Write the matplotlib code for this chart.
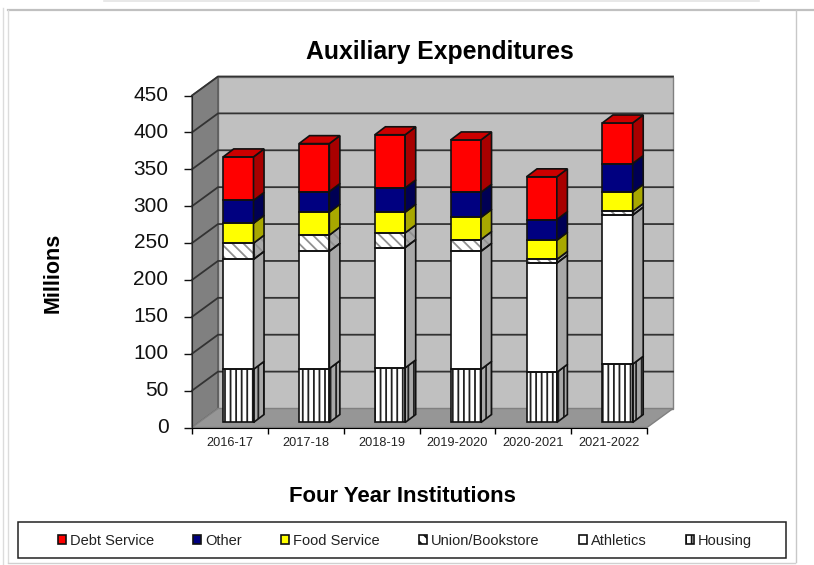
"""
Gastos auxiliares por año, barras apiladas con aspecto 3D.
"""
import matplotlib
matplotlib.use("Agg")
import matplotlib.pyplot as plt
from matplotlib.colors import to_rgb
from matplotlib.lines import Line2D
from matplotlib.patches import Patch, Polygon, Rectangle
from matplotlib.transforms import ScaledTranslation

plt.rcParams["font.family"] = ["Liberation Sans", "DejaVu Sans"]
plt.rcParams["hatch.linewidth"] = 1.3

ANCHO, ALTO = 814, 565

anios = ["2016-17", "2017-18", "2018-19", "2019-2020", "2020-2021", "2021-2022"]
housing = [72, 73, 74, 72, 68, 79]
athletics = [149, 159, 163, 160, 148, 202]
union = [22, 22, 20, 16, 5, 5]
food = [27, 31, 28, 30, 26, 26]
other = [31, 28, 33, 34, 28, 39]
debt = [59, 65, 72, 71, 58, 55]
ticks_y = [0, 50, 100, 150, 200, 250, 300, 350, 400, 450]

series = [
    ("Housing", housing, "#ffffff", "|||", "#222222"),
    ("Athletics", athletics, "#ffffff", None, None),
    ("Union/Bookstore", union, "#ffffff", "\\\\\\", "#909090"),
    ("Food Service", food, "#ffff00", None, None),
    ("Other", other, "#000080", None, None),
    ("Debt Service", debt, "#ff0000", None, None),
]

# profundidad en unidades de los ejes (categoria, valor)
FONDO_X, FONDO_Y = 0.343, 25.75
BARRA_DX, BARRA_DY = 0.139, 10.8
BARRA_ANCHO = 0.4
BARRA_X, BARRA_Y = 0.111, 6.8


def oscurecer(color, factor):
    return tuple(c * factor for c in to_rgb(color))


fig = plt.figure(figsize=(ANCHO / 100, ALTO / 100), dpi=100)
ax = fig.add_axes([192 / ANCHO, 1 - 427.5 / ALTO, 455 / ANCHO, 332 / ALTO])
ax.set_xlim(0, 6)
ax.set_ylim(0, 450)
ax.patch.set_alpha(0)
for lado in ["top", "right"]:
    ax.spines[lado].set_visible(False)
ax.spines["left"].set_color("#222222")

# paredes y piso
ax.add_patch(Polygon([(FONDO_X, FONDO_Y), (6 + FONDO_X, FONDO_Y), (6 + FONDO_X, 450 + FONDO_Y),
                      (FONDO_X, 450 + FONDO_Y)], facecolor="#c0c0c0", edgecolor="#808080",
                     lw=1, clip_on=False, zorder=1))
ax.add_patch(Polygon([(0, 0), (FONDO_X, FONDO_Y), (FONDO_X, 450 + FONDO_Y), (0, 450)],
                     facecolor="#808080", edgecolor="#555555", lw=1, clip_on=False, zorder=1))
ax.add_patch(Polygon([(0, 0), (6, 0), (6 + FONDO_X, FONDO_Y), (FONDO_X, FONDO_Y)],
                     facecolor="#969696", edgecolor="#808080", lw=1, clip_on=False, zorder=1))
for v in ticks_y[1:]:
    ax.plot([0, FONDO_X, 6 + FONDO_X], [v, v + FONDO_Y, v + FONDO_Y], color="#333333",
            lw=1.3, clip_on=False, zorder=2)

# barras apiladas
for i in range(len(anios)):
    izq = i + 0.5 + BARRA_X - BARRA_ANCHO / 2
    der = izq + BARRA_ANCHO
    base = BARRA_Y
    for j, (nombre, valores, color, trama, color_trama) in enumerate(series):
        alto = valores[i]
        tope = base + alto
        if trama:
            ax.bar(izq + BARRA_ANCHO / 2, alto, BARRA_ANCHO, bottom=base, color=color,
                   hatch=trama, edgecolor=color_trama, lw=0, zorder=4)
        else:
            ax.bar(izq + BARRA_ANCHO / 2, alto, BARRA_ANCHO, bottom=base, color=color, lw=0, zorder=4)
        ax.bar(izq + BARRA_ANCHO / 2, alto, BARRA_ANCHO, bottom=base, fill=False,
               edgecolor="#111111", lw=1.2, zorder=5)

        lateral = [(der, base), (der + BARRA_DX, base + BARRA_DY),
                   (der + BARRA_DX, tope + BARRA_DY), (der, tope)]
        if trama:
            ax.add_patch(Polygon(lateral, facecolor=oscurecer(color, 0.66), hatch=trama,
                                 edgecolor=color_trama, lw=0, clip_on=False, zorder=4))
        ax.add_patch(Polygon(lateral, facecolor=oscurecer(color, 0.66) if not trama else "none",
                             edgecolor="#111111", lw=1.2, clip_on=False, zorder=5))
        if j == len(series) - 1:
            techo = [(izq, tope), (der, tope), (der + BARRA_DX, tope + BARRA_DY),
                     (izq + BARRA_DX, tope + BARRA_DY)]
            ax.add_patch(Polygon(techo, facecolor=oscurecer(color, 0.8), edgecolor="#111111",
                                 lw=1.2, clip_on=False, zorder=5))
        base = tope

# ejes
ax.set_yticks(ticks_y)
ax.tick_params(axis="y", labelsize=15, length=6, width=1, pad=11, colors="#111111")
subir = ScaledTranslation(0, 1.5 / 72, fig.dpi_scale_trans)
for etiqueta in ax.get_yticklabels():
    etiqueta.set_transform(etiqueta.get_transform() + subir)
ax.set_xticks(range(7))
ax.set_xticklabels([])
ax.set_xticks([i + 0.5 for i in range(6)], labels=anios, minor=True)
ax.tick_params(axis="x", which="major", length=4, width=1, direction="out")
ax.tick_params(axis="x", which="minor", length=0, labelsize=9.2, pad=7, labelcolor="#222222")

fig.text(440 / ANCHO, 1 - 52 / ALTO, "Auxiliary Expenditures", fontsize=17.8, fontweight="bold",
         ha="center", va="center")
fig.text(53 / ANCHO, 1 - 273 / ALTO, "Millions", fontsize=15.5, fontweight="bold",
         rotation=90, ha="center", va="center")
fig.text(402 / ANCHO, 1 - 496 / ALTO, "Four Year Institutions", fontsize=15.9, fontweight="bold",
         ha="center", va="center")

# leyenda
fig.add_artist(Rectangle((17.5 / ANCHO, 1 - 558 / ALTO), 768 / ANCHO, 36 / ALTO, transform=fig.transFigure,
                         facecolor="white", edgecolor="#222222", lw=1.1))
manijas = []
for nombre, valores, color, trama, color_trama in reversed(series):
    manijas.append(Patch(facecolor=color, edgecolor="#111111", lw=1.2, label=nombre, hatch=trama))
fig.legend(handles=manijas, loc="center", bbox_to_anchor=(405 / ANCHO, 1 - 541 / ALTO), ncols=6,
           frameon=False, fontsize=10.5, handlelength=0.55, handleheight=0.55, handletextpad=0.25,
           columnspacing=2.72, labelcolor="#222222")

# marco de la pagina
for xs, ys, color, grosor in [
    ((8, 814), (10, 10), "#c0c0c0", 1.6),
    ((795.5, 795.5), (10, 562), "#c8c8c8", 1),
    ((8, 8), (10, 562), "#dcdcdc", 1),
    ((2.5, 2.5), (8, 565), "#dcdcdc", 1),
    ((8, 795), (562.5, 562.5), "#d0d0d0", 1),
    ((104, 759), (0.5, 0.5), "#e4e4e4", 1.2),
]:
    fig.add_artist(Line2D([x / ANCHO for x in xs], [1 - y / ALTO for y in ys], color=color, lw=grosor))

fig.savefig("out.png", dpi=100)
plt.close(fig)
